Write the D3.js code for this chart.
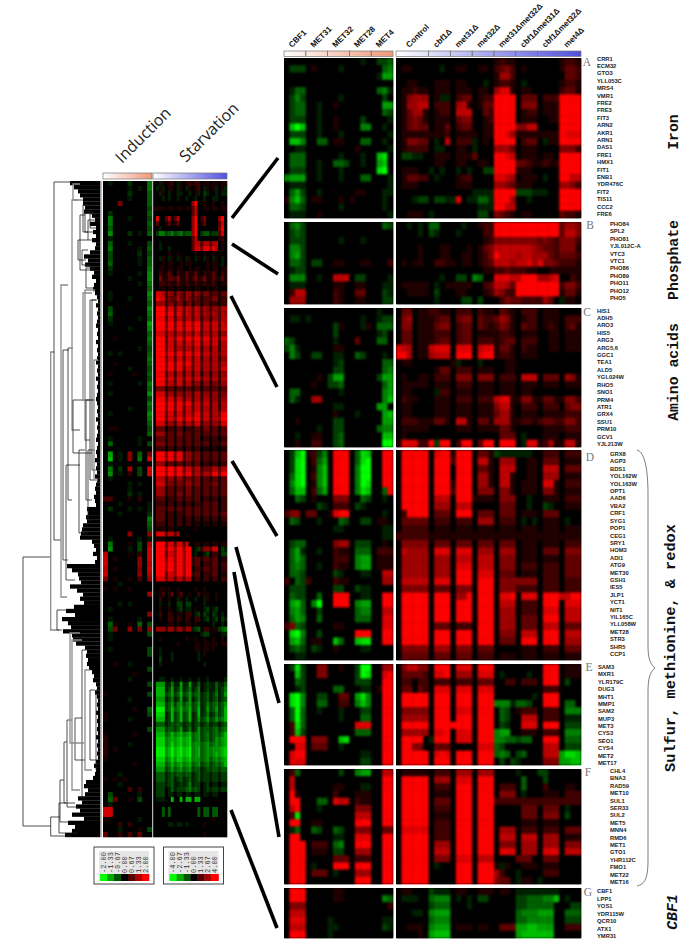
<!DOCTYPE html>
<html><head><meta charset="utf-8">
<script src="https://cdn.jsdelivr.net/npm/d3@7"></script>
<style>html,body{margin:0;padding:0;background:#fff}svg{display:block}</style>
</head><body><svg id="c" width="682" height="946"></svg>
<script>
// level codes: 0 = none, 1-9 = up-regulated, a-i = down-regulated (fraction of scale maximum)
const inductionGroups = ["CBF1","MET31","MET32","MET28","MET4"];
const starvationGroups = ["Control","cbf1Δ","met31Δ","met32Δ","met31Δmet32Δ","cbf1Δmet31Δ","cbf1Δmet32Δ","met4Δ"];
const starvationColsPerGroup = [6,4,4,4,4,4,4,4];
const inductionColsPerGroup = [4,4,4,4,4];
const overviewIndCols = [2,2,2,2,2];
const overviewStarvCols = [4,3,3,3,3,3,3,3];

const genesA = ["CRR1","ECM32","GTO3","YLL053C","MRS4","VMR1","FRE2","FRE3","FIT3","ARN2","AKR1","ARN1","DAS1","FRE1","HMX1","FIT1","ENB1","YDR476C","FIT2","TIS11","CCC2","FRE6"];
const genesB = ["PHO84","SPL2","PHO81","YJL012C-A","VTC3","VTC1","PHO86","PHO89","PHO11","PHO12","PHO5"];
const genesC = ["HIS1","ADH5","ARO3","HIS5","ARG3","ARG5,6","GGC1","TEA1","ALD5","YGL024W","RHO5","SNO1","PRM4","ATR1","GRX4","SSU1","PRM10","GCV1","YJL213W"];
const genesD = ["GRX8","AGP3","BDS1","YOL162W","YOL163W","OPT1","AAD6","VBA2","CRF1","SYG1","POP1","CEG1","SRY1","HOM3","ADI1","ATG9","MET30","GSH1","IES5","JLP1","YCT1","NIT1","YIL165C","YLL058W","MET28","STR3","SHR5","CCP1"];
const genesE = ["SAM3","MXR1","YLR179C","DUG3","MHT1","MMP1","SAM2","MUP3","MET3","CYS3","SEO1","CYS4","MET2","MET17"];
const genesF = ["CHL4","BNA3","RAD59","MET10","SUL1","SER33","SUL2","MET5","MNN4","RMD6","MET1","GTO1","YHR112C","FMO1","MET22","MET16"];
const genesG = ["CBF1","LPP1","YOS1","YDR115W","QCR10","ATX1","YMR31"];

const panelA = [
"0000 0000 0000 00a0 0bbc 000000 0000 0000 0000 1211 0000 0000 1221",
"0bbb 0100 00a0 0000 00cd 011000 00a0 0110 0110 2342 0100 0000 1332",
"0000 0000 0000 0000 0aee 000000 0000 0000 0000 1552 0000 0000 0332",
"0000 0000 0000 0000 0000 001100 0111 0110 00a0 1221 0a00 0000 1221",
"0acc 0000 0000 0000 0cda 011211 0111 0111 0110 5771 0110 0000 2331",
"0bdb 0000 00a0 0000 00b0 014555 01aa 0233 0122 9999 0333 0222 9999",
"0bcc 00a0 0100 0000 00ee 015566 0222 0561 0133 9999 0444 0111 9999",
"0bcc 00a0 0000 0000 00cb 013551 0122 0666 0032 9999 0122 0111 9999",
"0bbb 00a0 0100 00b0 000a 013431 0111 0344 0012 9999 0111 0011 9999",
"0fhf 00a0 0100 00dd 00a0 013433 0113 0233 0011 9999 4466 0000 9999",
"0bbb 00a0 00a0 0000 000a 011111 1112 0111 1011 9975 1111 1111 9777",
"0ffd 00cc 0110 00cc 00a0 014433 0a06 0222 a010 9998 0233 0a11 9999",
"00aa 0000 0000 0100 000a 012222 0aa0 0110 a000 5553 0111 0000 4442",
"0ccc 0000 00a0 00a0 0fg0 0bbaa0 0111 0111 3000 9976 0111 0110 9989",
"0ccc 00a0 0ccb 00a0 0ef0 000000 0110 0110 0110 9999 3321 1211 9999",
"0bbb 00a0 00a0 0000 0gi0 011100 a0a0 0a0a 00bb 9999 1110 0000 9999",
"deee 00a0 00a0 00cc 000a 013322 0a00 0122 0000 7765 0111 0a00 9966",
"0aaa 0000 0000 0000 000a 011100 0000 0111 0000 5543 1110 0000 5542",
"0ceb 00a0 0000 0110 00aa 000000 0000 0000 aaaa 9998 bbba aa00 9999",
"1dfc 0110 0010 1000 00a0 000abb 0bba a70a acca 9985 00a0 0000 9999",
"0ccb 0000 00a0 0000 00a0 000000 0000 0000 0aaa 8866 0000 0000 9999",
"0aaa 0010 0000 0000 000a 001110 a000 0000 0bb0 4321 0110 0000 3221"];
const panelB = [
"0cdb 0000 0000 0000 00cb 00a0a0 cc00 00a0 0122 9999 9999 9999 3554",
"0bcb 0000 0000 0000 0000 0000a0 ba00 0a00 0022 9999 9999 9999 3664",
"0bbb 0000 00a0 00a0 0000 000000 0000 0000 0012 4444 4444 3432 4442",
"0ddb 0000 0000 0000 0000 000010 0011 0001 0134 6666 6665 4332 4441",
"0deb 0000 0000 0000 0000 000010 0011 0011 0124 8666 5665 5532 3332",
"0ccb 0bb0 0110 0011 0002 010110 0221 1011 0123 6665 6675 7443 2221",
"0abb 0000 0000 0000 0000 000000 0000 0000 0011 2232 2211 0011 1111",
"0ddd 00a0 0666 0bb0 000a 000000 00a0 0bb0 dc00 7776 6989 5567 0021",
"0aaa 0000 0110 0110 00aa 011111 0a01 1111 0023 6653 9999 9999 2442",
"0266 0000 0210 0330 00ba 001111 0b00 0110 0012 5422 9999 9999 1331",
"0555 0000 0210 0110 00bb 000000 0a00 00bb 0b00 0243 3222 2530 a110"];
const panelC = [
"0000 0000 0000 0000 0a00 033011 2211 0222 0211 0321 0222 0111 0000",
"0aa0 a000 0000 00a0 0abb 045011 1233 0344 0322 3541 0122 0111 0222",
"0000 0000 0b10 00a1 0ccc 044011 1344 0233 0321 2431 0322 0121 0231",
"0000 0000 0b00 0000 0ab0 033011 1222 0233 0111 1221 0111 0011 0111",
"cb00 0000 0a00 0300 0cc0 033011 1233 0233 0222 1233 0222 0011 0111",
"bda0 0000 0110 0000 0000 765011 6777 0777 0677 1331 0211 0011 0111",
"0db0 0bb0 0aa0 0cb0 00a0 885011 5666 0888 0788 1221 0111 0000 0000",
"0000 0000 0ab0 0000 00cc 011000 0000 1a00 0a00 0011 0000 0000 0000",
"0000 0000 0bb0 0000 00cd 000000 0133 0222 0111 0011 0000 0000 0000",
"0000 0010 bee0 0000 0bee 010011 0222 0444 0444 0222 0666 0333 0541",
"0000 0100 bbc0 0000 00ce 011111 0111 0222 0111 0111 0111 0111 0111",
"0cc0 0000 00a0 0000 00de 011000 0a22 0111 0111 0111 0110 0000 0000",
"0ca0 0550 0000 0000 00df 021100 0111 0222 0222 6771 1441 1331 1442",
"0000 0000 0aa0 0000 0ee0 011000 0111 0111 0111 4661 0222 0222 0344",
"0000 0000 0100 0a00 00ef 011000 0111 0111 0111 3551 0111 0111 1222",
"0010 0000 0bb0 0000 00ee 022211 1331 0661 0331 5551 1221 2332 2442",
"0000 00a0 0bb0 0000 0cdd 011111 0000 0111 0111 1331 0000 0111 1222",
"00a0 0110 0bc0 0000 00ff 010000 0000 0000 0000 0333 0a00 0111 0111",
"0010 0220 0bc0 0000 00hi 177722 8b88 0288 0388 0999 0a77 1251 1661"];
const panelD = [
"0bfh 12bd 0899 0cgf 0099 099999 0799 1999 0331 baaa aaa0 0222 0222",
"0bgh 02ce 0899 0cgh 0099 099999 0999 2999 0661 0555 0011 0333 0111",
"0bgi 01df 0899 0dhh 0099 099999 0999 0999 0331 0666 0011 0666 0333",
"0cgi 02df 0899 0dhh 0099 099999 0999 0999 0551 0661 0011 0555 0111",
"0dgh 01df 0999 0dhg 0099 099999 0999 1999 0551 0661 0111 0771 0222",
"0cff 02ce 0899 0dgf 00c8 099999 0999 2999 0444 0441 0111 0441 0111",
"00cb 0100 0444 00cb 00a0 099999 0666 0999 1111 0444 00a0 0111 0222",
"0000 00ba 0222 0ba0 0000 099999 0555 0666 0000 0333 00a0 0ba0 0111",
"2440 3300 1788 0000 00a0 029999 0333 0999 0333 0333 0111 0333 0000",
"0cb0 00a0 00cb 00bb 0110 033333 0222 0222 0555 0222 0a0a 0111 0a00",
"0000 0000 0aa0 0000 00aa 022222 0111 0111 0111 0111 0111 0111 0111",
"0000 0000 0000 0000 00aa 222222 1111 1111 1111 1111 1111 1111 1111",
"0bcc 0000 0455 0bbb 0010 044444 0333 0333 0333 0333 0111 0111 0222",
"0cea 00a0 0211 0ccc 0222 065555 0777 0777 0555 0555 0111 0333 0444",
"0cec 0000 0222 0dee 0111 055555 0555 0666 0666 0444 0111 0111 0333",
"0cdc 00a0 0211 0dee 0111 055555 0555 0777 0666 0444 0222 0222 0333",
"0ccb 0000 0ba0 00aa 0066 055555 0555 0888 0777 0333 0111 0222 0333",
"20cb 2000 0211 0000 0055 066666 0777 0888 0888 0444 4444 0222 0222",
"0bbb 0000 0bb0 0baa 0000 044444 0333 0444 0999 0444 2222 0222 0222",
"0cbb 00c0 0899 00aa 0088 099999 0888 0559 0999 0779 0777 0888 6699",
"0efc 0dh0 0899 0dee 0099 099999 0999 0999 0999 0666 0222 0888 0777",
"0dec 00b0 0000 0cdd 0066 099999 0999 0999 0999 0555 0222 0777 0666",
"0ced 00c0 0000 0ccc 0077 099999 0999 0999 0999 0555 0333 0888 0666",
"24cb 0000 0110 0000 0077 099999 0333 0222 0888 0555 0333 0666 0333",
"0gid 00b0 0000 0999 0099 099999 0999 0999 0999 0444 0666 0999 0666",
"0efc 0110 0fc0 0fgg 0099 099999 0999 0999 0999 0333 0888 0999 0555",
"0bcb 0ba0 0100 00aa 0000 044444 0555 0444 0333 0000 0111 0222 0333",
"00aa 0000 0000 0000 0000 033333 0333 0333 0222 0111 0111 0111 0111"];
const panelE = [
"0bgb 0044 0010 0bhh 0055 046644 0889 0777 0999 0000 0000 0999 0111",
"00fb 0044 0000 0bhg 0078 033332 0779 0555 0777 0a00 00a0 0888 0111",
"00cb 0000 0000 0bbb 0088 022022 0222 0222 0333 0022 0222 0888 0b00",
"00ab 0000 0cc0 00aa 0188 033032 0777 0777 0777 0000 0000 0222 0000",
"0gid 00bb 0033 0egd 0099 099999 0999 0999 0999 0000 000a 0999 0000",
"0gid 00cc 0022 0dfd 0099 099999 0999 0999 0999 ddda ccb0 0999 0cc0",
"0chc 00a0 00a0 00bb 0099 044444 0999 0777 0999 0cb0 1222 0222 0ddd",
"0chc 0000 00a0 00cc 0099 055555 0999 0999 0999 0cb0 0666 0222 0aaa",
"02gc 0000 0000 0777 0099 088888 0999 9999 0999 0ba0 0777 0888 0bbb",
"02fb 0000 0000 0ccc 0099 055555 0778 0777 0999 dee0 0111 0222 0ddd",
"0999 0444 00fg 0000 0099 088880 a888 0777 0999 ddcc bcc0 0888 0ccc",
"0077 0333 00a0 0000 0099 088440 0333 0000 0777 cb00 0000 0666 0bbb",
"0799 0000 0000 00aa 0099 099999 0797 0999 0999 cdc0 bc00 0666 eggf",
"0777 0000 0000 00bb 0099 099999 0999 0999 0999 0b0b a000 0444 eeff"];
const panelF = [
"02c0 0000 00b0 0dee 0066 011111 0222 0555 0555 0000 a000 bb00 0000",
"0600 0000 0000 0000 0099 099999 0555 0777 0999 0000 0c00 0b00 0000",
"0600 0000 0110 00aa 0099 099999 0222 0999 0999 0222 0c00 0200 0110",
"0810 0000 0200 0111 0099 099999 0111 0999 0999 0444 0a00 0111 0222",
"0990 00cc 0766 0211 0099 099999 0333 0999 0999 2222 2222 2222 2222",
"0690 00a0 0000 0444 0099 099999 0222 0999 0999 0000 0333 0333 0a00",
"02g0 0000 0000 0666 0099 099999 0111 0999 0999 0000 0333 0444 0b00",
"0990 0110 0000 0999 0099 099999 0222 0999 0999 0000 0111 0111 0000",
"0ac0 0cb0 0cb0 0444 0033 077777 0222 0999 0999 0555 0222 0222 0333",
"0880 0000 0aa0 0777 0099 099999 0222 0999 0999 0666 0666 0555 0111",
"0888 0222 0cd0 0888 0099 099999 0555 0999 0999 0444 0555 0555 0444",
"0999 0111 0bb0 0555 0099 099999 0666 0999 0999 0777 0555 0777 0666",
"0999 0000 0333 0222 0099 088888 0444 0777 0666 0000 3330 0333 0000",
"0999 0a00 0888 0888 0099 099999 0a00 0999 0999 1a10 0111 0111 0000",
"0999 0333 0a00 0555 0099 099999 0000 0999 0999 5200 a000 0222 0000",
"0999 0000 0000 0888 0099 099999 0000 0999 0999 4330 a110 a000 0000"];
const panelG = [
"0999 0000 0110 0000 0000 011000 baaa 0110 0111 0110 aaaa aaaa 0000",
"0888 0000 0110 0000 00dc 0aaa00 cddd 0a0a 0bb0 0000 bbcc cddf 0a00",
"0444 0000 0000 0000 0002 000000 bccc 000a 0000 0000 bbcc ccc0 00bb",
"0666 0000 0000 0000 0000 000aa0 deee 0000 0000 0000 cddd eee0 0ccc",
"0777 0000 a000 0000 00aa 000000 cddd 0000 0000 0000 ccdd ddd0 0bbb",
"0666 0000 aa00 0000 00ba 001110 deee 0111 0110 0333 eeff eee0 0222",
"0999 0000 a000 0000 0000 000010 efff 0000 0000 0000 efff fff0 0000"];

const overviewRows = [
"0a 00 0b 00 0e 00a1 012 0a1 012 122 011 011 011",
"00 00 0a 0a 0e 0a1a 011 0a1 0a1 012 0a1 01a 01a",
"00 00 0b 00 0d 00a1 0a0 0aa 00a 01a 0ba 00a 0aa",
"00 00 0a 00 0d 000a 0a0 0a0 0a0 0a0 0a0 0aa 000",
"00 05 00 00 0d 0000 000 000 000 590 010 010 010",
"00 00 00 00 0c 1111 011 011 011 360 011 011 011",
"0b 00 00 00 0d 0000 000 000 000 360 000 000 000",
"0e 00 0a 00 0c 0800 360 360 000 590 240 000 590",
"0e 00 00 00 0d 0300 130 130 000 590 130 000 370",
"0d 00 00 00 0c 00a0 000 000 000 590 000 000 480",
"0f 00 0b 0a 0d 0bdd bcd bcd bcc 590 bcc abb 370",
"0a 00 00 00 00 0000 000 000 000 360 000 000 120",
"0d 00 0a 00 0c 00a0 000 000 000 366 366 366 010",
"0e 00 00 0a 0d 00a0 0a0 000 000 377 488 486 010",
"0c 00 00 0b 0c 0000 010 010 000 010 010 010 000",
"0c 00 00 0a 0d 00a1 0a1 0a1 0a1 0a1 0a1 0a1 0a0",
"0d 00 00 0a 0d 0001 011 001 011 000 001 011 0a0",
"0b 00 00 00 0e 0011 011 011 001 011 001 011 011",
"0a 00 00 0a 0f 0021 131 021 131 131 021 131 021",
"00 00 0a 00 0f 0041 133 241 131 241 241 131 131",
"00 00 00 0a 0e 0022 121 131 121 121 121 121 011",
"00 00 00 00 0d 0011 011 011 011 011 001 011 000",
"0a 00 00 00 0f 0776 254 254 255 254 244 133 133",
"0a 00 0a 00 0e 0877 243 364 254 243 133 244 122",
"00 00 00 00 0d 0555 244 244 134 133 133 122 122",
"0c 00 00 00 0f 0999 377 377 376 376 365 255 366",
"0d 00 00 00 0e 0999 488 387 376 376 365 365 365",
"0b 00 00 0a 0d 0888 377 366 366 366 255 255 366",
"0a 00 00 00 0g 0999 488 488 488 598 377 377 376",
"00 00 0a 00 0f 0999 488 488 488 599 377 377 377",
"00 00 00 00 0d 0777 366 366 366 376 366 366 255",
"00 10 00 00 0e 0999 377 488 488 599 488 377 377",
"00 00 00 00 0d 0999 377 377 377 488 377 377 266",
"00 00 00 0a 0c 0999 377 366 366 377 266 266 266",
"0a 0a 00 00 0d 0999 488 488 488 488 377 366 366",
"00 00 00 00 0e 0999 377 377 377 377 266 266 255",
"00 10 00 00 0d 0999 488 488 488 377 366 366 366",
"00 00 0a 00 0c 0999 488 488 377 377 366 366 377",
"01 00 00 10 0d 0888 266 266 266 266 155 155 255",
"00 00 00 00 0c 0999 377 377 377 377 366 266 266",
"0a 00 00 0a 0e 0888 366 377 266 255 155 144 255",
"00 00 00 00 0d 0444 133 133 133 133 133 133 133",
"0a 00 00 00 0f 0777 255 255 255 266 255 255 244",
"00 00 00 00 0c 0888 377 377 266 266 266 255 255",
"00 00 00 00 0e 0999 488 488 488 377 377 266 266",
"00 00 0a 00 0d 0999 488 488 377 377 366 266 266",
"0a 00 00 00 0f 0888 377 377 377 488 377 266 488",
"00 00 00 00 0e 0999 377 488 488 599 377 266 599",
"00 00 00 00 0d 0777 255 266 266 377 255 255 377",
"01 10 00 00 0c 0333 022 133 022 133 144 133 133",
"00 00 00 00 0d 0555 133 144 133 133 133 133 133",
"0a 00 00 0a 00 0333 133 133 133 133 022 022 022",
"0d 00 00 0a 0c 0444 133 133 133 133 133 022 133",
"00 00 00 00 00 0222 022 022 022 022 011 011 011",
"0g 0a 06 0d 05 0999 488 488 255 244 133 133 133",
"0h 0a 06 0e 09 0999 488 488 255 244 133 133 133",
"0a 00 00 00 00 0555 133 133 133 133 022 022 022",
"0e 0b 07 0c 09 0999 599 599 377 366 244 366 366",
"0f 0a 02 0c 09 0999 599 599 488 366 366 488 488",
"0a 00 00 00 00 0666 255 255 244 244 133 133 133",
"00 00 0a 0a 00 0777 244 244 255 244 133 244 133",
"00 00 0a 00 00 0555 133 133 144 133 133 133 133",
"00 00 0b 0a 00 0555 133 144 144 133 133 133 133",
"33 00 01 02 00 0333 022 133 133 133 022 022 022",
"00 0a 00 00 0a 0222 022 022 022 022 133 133 022",
"0b 00 0a 0a 0a 0333 133 133 133 133 133 133 022",
"00 0a 00 00 0b 0333 022 022 133 133 133 133 133",
"00 00 00 00 0e 0333 022 022 022 022 022 022 022",
"00 00 00 00 0d 0222 022 022 022 011 011 011 011",
"00 00 00 00 0c 0111 011 000 000 010 000 000 000",
"00 00 06 00 06 0777 366 360 000 000 000 000 000",
"0a 00 00 0a 0a 0111 000 000 000 000 000 000 000",
"0e 00 01 0c 07 0999 377 377 370 011 011 011 011",
"0f 00 0a 0c 09 0999 488 599 599 0ab 255 377 0ba",
"80 00 01 02 09 0999 377 599 599 0a0 0ab 022 0bb",
"90 10 00 06 09 0999 488 599 599 133 133 133 011",
"90 00 00 06 08 0999 599 599 599 133 022 133 022",
"80 10 00 05 09 0999 599 599 599 022 133 133 022",
"90 00 00 06 08 0999 377 599 599 133 022 133 011",
"50 10 01 03 06 0777 366 366 366 022 022 022 022",
"00 0a 00 00 00 0000 000 000 000 000 000 000 000",
"10 10 01 00 00 0011 010 010 000 010 010 000 000",
"00 00 00 00 07 0012 013 013 001 002 011 001 000",
"00 00 00 00 00 0020 010 0a1 0a0 0a0 0a1 001 000",
"00 0a 0a 00 00 00a0 0a0 0bb 0bb 000 0a0 000 000",
"0a 00 00 00 00 0010 010 0ab 0aa 010 0ab 0ab 000",
"00 00 00 00 06 0020 021 011 022 0ab 0ba 0ba 0a0",
"0a 00 00 0a 00 0010 022 021 021 022 0ab 0ab 0ba",
"0d 10 01 0d 0c 0000 011 010 011 010 000 0a0 0a0",
"0c 50 06 05 06 0555 255 255 255 abc 022 011 bcd",
"0a 00 00 00 0c 0000 000 000 000 000 abb 000 0aa",
"0a 00 00 00 00 0010 000 000 010 010 010 010 010",
"00 00 00 00 00 0000 000 010 000 011 011 011 011",
"0a 00 00 00 0c 00a0 000 000 000 011 011 010 000",
"00 00 00 00 0c 00a0 00a 000 000 00a 010 000 000",
"00 00 00 00 00 00b0 00a 000 000 00a 000 000 000",
"00 10 0a 00 00 00a0 000 000 000 000 0a0 000 000",
"00 00 00 00 0c 0000 000 000 000 000 000 000 000",
"00 00 00 10 00 0000 000 000 000 000 000 000 000",
"00 00 0a 00 00 00aa 00a 00a 00a 00a 00a 000 00a",
"00 00 00 00 0c 0eee aad aae aae aac 0ab aac aac",
"00 00 00 00 00 0fff abe abe abd abd 0ab aac abd",
"10 00 00 00 0c 0fff bce bcf bce bcd abc abd abe",
"00 00 0a 00 00 0eee abd abe abe abd abc abc abc",
"00 00 00 00 00 0fff bce bde bde bce abd bcd bce",
"00 00 00 10 0d 0hhh bcf cdf cdf bcf abe bce bcf",
"10 00 00 00 0c 0ggg abf bcf bcf abf abd abd bcf",
"10 00 0a 00 00 0fff abf bcf bcf abe bce bce cdf",
"00 00 00 00 00 0ccc abc bcc abc abc abc abb abc",
"00 00 00 00 0c 0eee bcc bce abd abe bcc bcd bcd",
"10 00 00 10 00 0fff cdf def def cde bcd bcd cdf",
"20 00 00 00 00 0ggg def efg efg cde bcd bce def",
"20 00 0a 00 00 0ggg deg efg efg dee cde cde def",
"20 10 00 00 00 0hhh efh fgh fgh def cde dee efg",
"20 00 00 00 00 0hhh efh fgh fgh def cde def efg",
"10 00 00 00 00 0ggg deg egg efg dee cde cde def",
"00 00 00 10 00 0fff cdf def def cde bcd bcd cdf",
"00 00 00 00 00 0eee bce cde cde bcc abc bcc bcc",
"00 0a 00 00 00 0ccc abc bcc bcc abc abb abb abb",
"10 10 10 00 00 0ccc abc abc abc abc abb abb abb",
"00 0a 00 00 00 0bbb abc aab abd abb 0ab 0aa 0aa",
"00 00 03 02 00 0bbb 0ac abb bcd bcb 0ab abb abb",
"0c 00 00 0a 00 0bbb 0aa 0aa 0aa 0aa 0aa 0aa 000",
"0d 40 01 0c 00 0aaa 00f 00f 0ff 0ff 000 000 000",
"0a 00 00 00 00 0000 000 000 000 000 000 000 000",
"99 00 00 00 00 000c 0c0 000 000 00c 0cc 0cc 000",
"99 00 00 00 00 000c 0c0 000 000 00c 0cc 0cc 000",
"10 00 00 0a 00 0000 000 000 000 000 000 010 000",
"00 02 02 00 00 0000 0aa 0aa 0a0 000 010 000 000",
"00 0a 00 01 0c 0000 000 000 000 000 000 000 000",
"40 02 03 04 00 0000 000 000 000 000 010 000 000"];

// dendrogram: distance at which each leaf row joins its nearest branch
const leafDepth = [70,74,78,80,83,83,85,84,92,95,90,96,93,96,92,96,95,90,84,88,85,90,94,92,96,94,93,95,
97,98,96,98,97,98,97,96,98,97,98,96,98,97,98,97,96,98,97,98,96,98,97,98,97,96,97,98,97,
98,96,98,97,98,97,96,98,97,96,97,95,97,96,97,95,97,96,95,96,94,95,96,
87,88,86,87,83,82,81,80,92,94,96,93,97,95,
67,72,78,79,81,70,77,83,80,84,74,66,75,62,68,71,63,72,
73,76,85,87,86,88,87,89,92,94,93,96,97,95,97,
98,97,98,96,98,97,98,97,98,96,98,97,98,97,98,
96,94,96,95,93,86,84,88,85,78,82,76,80,72,84,68,75,72,65];
// branches: join distance, top position, bottom position, top child distance, bottom child distance, 1 = gray
const treeBranches = [
[23,557,826,50.7,50.7,0],[50.7,352,630,54,59,1],[54,182,540,72,61,0],[61,285,597,68,67,1],[63,350,560,69,68,0],
[68,348,500,73,72,0],[72,200,430,78,80,1],[73,184,200,80,83,1],[78,240,260,88,86,0],[80,215,270,85,92,0],
[83,205,232,90,88,0],[85,290,440,95,90,1],[90,300,480,96,94,0],[50.7,817,836,60,72,0],[60,780,822,64,70,0],
[59,803,833,66,78,0],[64,742,803,67,75,0],[67,720,807,72,78,0],[72,640,790,82,80,1],[75,718,760,82,85,0],
[82,650,797,88,84,0],[85,670,770,90,92,1],[90,690,760,95,96,0],[70,633,743,80,84,1],[79,450,533,85,88,0],
[73,400,453,90,92,0],[66,465,580,80,75,0],[83,293,400,92,95,1],[86,400,500,93,92,0],[92,300,470,97,96,0],
[88,450,520,95,93,0],[94,360,480,98,98,1],[96,690,770,99,98,0],[85,212,232,93,95,0],[88,220,240,96,95,0],
[90,214,228,96,97,0],[82,250,265,88,90,0],[86,268,288,95,94,0],[57,610,630,68,62,0]];

const legendInduction = [-2.00,-1.33,-0.67,0.00,0.67,1.33,2.00];
const legendStarvation = [-4.00,-2.67,-1.33,0.00,1.33,2.67,4.00];
const inductionMax = 2, starvationMax = 4;

const svg = d3.select("#c");
const defs = svg.append("defs");
const blur = (id,s)=>{defs.append("filter").attr("id",id).attr("x",0).attr("y",0).attr("width","100%").attr("height","100%")
  .attr("color-interpolation-filters","sRGB").append("feGaussianBlur").attr("stdDeviation",s);};
blur("soft",0.95); blur("softO",0.55);
const gradient=(id,stops)=>{const g=defs.append("linearGradient").attr("id",id);
  stops.forEach((c,i)=>g.append("stop").attr("offset",i/(stops.length-1)).attr("stop-color",c));};
gradient("gInd",["#ffffff","#ee9878"]); gradient("gStv",["#ffffff","#5050e0"]);

const colorInd = d3.scaleLinear().domain([-inductionMax,0,inductionMax]).range(["#00ff00","#000000","#ff0000"]).clamp(true);
const colorStv = d3.scaleLinear().domain([-starvationMax,0,starvationMax]).range(["#00ff00","#000000","#ff0000"]).clamp(true);
const level = ch => (ch>="0"&&ch<="9") ? +ch : -(ch.charCodeAt(0)-96);
const parse = s => Array.from(s.replace(/\s/g,"")).map(level);

function heat(g, rows, nLeft, xL, xR, y0, y1, h, fullL, fullR){
  const yScale = d3.scaleBand().domain(d3.range(rows.length)).range([y0,y1]);
  const xa = d3.scaleBand().domain(d3.range(nLeft)).range(xL);
  const parsed = rows.map(parse);
  const nRight = parsed[0].length-nLeft;
  const xb = d3.scaleBand().domain(d3.range(nRight)).range(xR);
  const make=(xs,col,mx,full,get)=>{
    const gg=g.append("g");
    parsed.forEach((r,ri)=>{
      gg.selectAll(null).data(get(r)).enter().append("rect")
        .attr("x",(d,i)=>xs(i)).attr("y",yScale(ri)).attr("width",xs.bandwidth()+0.3).attr("height",yScale.bandwidth()+0.3)
        .attr("fill",d=>col(d/full*mx));
    });
    gg.attr("filter",`url(#${h})`);
  };
  g.append("rect").attr("x",xL[0]).attr("y",y0).attr("width",xL[1]-xL[0]).attr("height",y1-y0).attr("fill","#000");
  g.append("rect").attr("x",xR[0]).attr("y",y0).attr("width",xR[1]-xR[0]).attr("height",y1-y0).attr("fill","#000");
  make(xa,colorInd,inductionMax,fullL,r=>r.slice(0,nLeft));
  make(xb,colorStv,starvationMax,fullR,r=>r.slice(nLeft));
}

// dendrogram
const xTree = d3.scaleLinear().domain([0,100]).range([0,100]);
const yTree = d3.scaleLinear().domain([181,837]).range([181,837]);
const leafBand = d3.scaleBand().domain(d3.range(leafDepth.length)).range([181,837]);
const gt = svg.append("g");
gt.selectAll("rect.l").data(leafDepth).enter().append("rect").attr("class","l")
  .attr("x",d=>xTree(d)).attr("y",(d,i)=>leafBand(i)).attr("width",d=>xTree(100.5)-xTree(d)).attr("height",leafBand.bandwidth()+0.2).attr("fill","#000");
const treePath = b => `M${xTree(b[3])},${yTree(b[1])}H${xTree(b[0])}V${yTree(b[2])}H${xTree(b[4])}`;
gt.selectAll("path").data(treeBranches).enter().append("path").attr("d",treePath).attr("fill","none")
  .attr("stroke",d=>d[5]?"#8c8c8c":"#222").attr("stroke-width",d=>d[5]?1.3:0.8);
gt.append("rect").attr("x",100.5).attr("y",181).attr("width",1.5).attr("height",656).attr("fill","#bbb");

// overview heat map
heat(svg.append("g"), overviewRows, d3.sum(overviewIndCols), [103,152], [153,227], 181, 837, "softO", 11, 8.5);
svg.append("rect").attr("x",152).attr("y",181).attr("width",1.2).attr("height",656).attr("fill","#b5b5b5");
const bars=[[103,152,"gInd"],[153,227,"gStv"]];
svg.selectAll("rect.ob").data(bars).enter().append("rect").attr("class","ob").attr("x",d=>d[0]).attr("y",173).attr("width",d=>d[1]-d[0]).attr("height",6)
  .attr("fill",d=>`url(#${d[2]})`).attr("stroke","#777").attr("stroke-width",0.7);
[["Induction",122,164],["Starvation",186,163]].forEach(t=>{
  svg.append("text").attr("transform",`translate(${t[1]},${t[2]}) rotate(-45)`).attr("font-family","'Open Sans',sans-serif").attr("font-size",16).attr("fill","#222").text(t[0]);
});

// detail panels
const detailL=[284,393], detailR=[396,581];
const panels=[
 {rows:panelA,genes:genesA,y:[58,218],lx:597,ly:[58.5,214],letter:"A",ll:[587,62]},
 {rows:panelB,genes:genesB,y:[222,304],lx:610,ly:[224,298],letter:"B",ll:[590,225]},
 {rows:panelC,genes:genesC,y:[308,447],lx:597,ly:[310.5,444],letter:"C",ll:[587,312]},
 {rows:panelD,genes:genesD,y:[450,660],lx:610,ly:[454,654],letter:"D",ll:[590,457]},
 {rows:panelE,genes:genesE,y:[664,765],lx:598,ly:[667,763],letter:"E",ll:[589,667]},
 {rows:panelF,genes:genesF,y:[769,884],lx:610,ly:[771,882],letter:"F",ll:[588,772]},
 {rows:panelG,genes:genesG,y:[888,938],lx:597,ly:[891,936],letter:"G",ll:[588,892]}];
panels.forEach(p=>{
  heat(svg.append("g"),p.rows,d3.sum(inductionColsPerGroup),detailL,detailR,p.y[0],p.y[1],"soft",8,8);
  const yy=d3.scalePoint().domain(p.genes).range(p.ly);
  svg.append("g").selectAll("text").data(p.genes).enter().append("text").attr("x",p.lx).attr("y",d=>yy(d)).attr("dy","0.35em")
    .attr("font-family","'Liberation Sans',sans-serif").attr("font-weight","bold").attr("font-size",5.8).attr("fill","#222").text(d=>d);
  svg.append("text").attr("x",p.ll[0]).attr("y",p.ll[1]).attr("dy","0.35em").attr("text-anchor","middle")
    .attr("font-family","'Liberation Serif',serif").attr("font-size",11.5).attr("fill","#777").text(p.letter);
});

// condition header bars + labels
function headers(groups,cols,range,gid){
  const total=d3.sum(cols); const x=d3.scaleLinear().domain([0,total]).range(range);
  let c=0; const segs=groups.map((g,i)=>{const s={g,a:x(c),b:x(c+cols[i])}; c+=cols[i]; return s;});
  svg.append("rect").attr("x",range[0]).attr("y",51).attr("width",range[1]-range[0]).attr("height",5.5).attr("fill",`url(#${gid})`);
  svg.append("g").selectAll("rect").data(segs).enter().append("rect").attr("x",d=>d.a).attr("y",51).attr("width",d=>d.b-d.a).attr("height",5.5)
    .attr("fill","none").attr("stroke","#777").attr("stroke-width",0.7);
  svg.append("g").selectAll("text").data(segs).enter().append("text")
    .attr("transform",d=>`translate(${(d.a+d.b)/2-3},48) rotate(-45)`)
    .attr("font-family","'Liberation Sans',sans-serif").attr("font-weight","bold").attr("font-size",8.1).attr("fill","#111").text(d=>d.g);
}
headers(inductionGroups,inductionColsPerGroup,detailL,"gInd");
headers(starvationGroups,starvationColsPerGroup,detailR,"gStv");

// category titles
[["Iron",132,678,"normal"],["Phosphate",260,678,"normal"],["Amino acids",372,678,"normal"],["Sulfur, methionine, & redox",648,675,"normal"],["CBF1",912,677,"italic"]].forEach(t=>{
  svg.append("text").attr("transform",`translate(${t[2]},${t[1]}) rotate(-90)`).attr("text-anchor","middle")
    .attr("font-family","'Liberation Mono',monospace").attr("font-weight","bold").attr("font-style",t[3]).attr("font-size",t[0].length>20?15.3:14.8).attr("fill","#111").text(t[0]);
});
// brace
svg.append("path").attr("d","M637,450C645,452 648,470 648,495L648,645C648,658 650,664 655,668C650,672 648,678 648,692L648,860C648,878 645,884 637,886")
  .attr("fill","none").attr("stroke","#444").attr("stroke-width",0.7);

// connectors
const connectors=[[232,218,278,158],[232,244,278,274],[231,296,277,387],[232,461,277,536],[236,547,279,703],[234,572,279,837],[231,810,277,928]];
svg.append("g").selectAll("line").data(connectors).enter().append("line")
  .attr("x1",d=>d[0]).attr("y1",d=>d[1]).attr("x2",d=>d[2]).attr("y2",d=>d[3]).attr("stroke","#000").attr("stroke-width",3.6);

// legends
function legend(vals,col,x0){
  const g=svg.append("g");
  g.append("rect").attr("x",x0).attr("y",847).attr("width",60).attr("height",37).attr("fill","#fff").attr("stroke","#444").attr("stroke-width",1);
  g.append("rect").attr("x",x0+5).attr("y",851).attr("width",50).attr("height",30).attr("fill","#e6e6e6");
  const b=d3.scaleBand().domain(vals).range([x0+6,x0+55]);
  g.selectAll("rect.s").data(vals).enter().append("rect").attr("class","s").attr("x",d=>b(d)).attr("y",874).attr("width",b.bandwidth()+0.3).attr("height",7).attr("fill",d=>col(d));
  g.selectAll("text").data(vals).enter().append("text")
    .attr("transform",d=>`translate(${b(d)+b.bandwidth()/2+2.3},873) rotate(-90)`)
    .attr("font-family","'Liberation Mono',monospace").attr("font-size",7).attr("fill","#333").text(d=>d.toFixed(2));
}
legend(legendInduction,colorInd,94);
legend(legendStarvation,colorStv,163.5);
</script></body></html>
